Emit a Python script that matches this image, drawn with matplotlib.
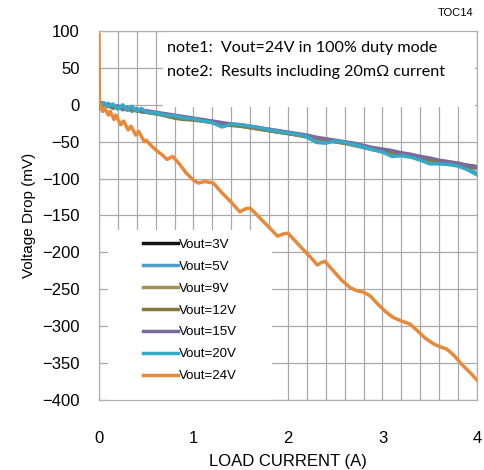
import matplotlib.pyplot as plt
from matplotlib.patches import Rectangle

# load current (A) for the near-linear group
x_grp = [0, 0.05, 0.1, 0.15, 0.2, 0.25, 0.3, 0.35, 0.4, 0.45,
         0.5, 0.6, 0.7, 0.8, 0.9, 1.0, 1.1, 1.2, 1.3, 1.4,
         1.5, 1.6, 1.7, 1.8, 1.9, 2.0, 2.1, 2.2, 2.3, 2.4,
         2.5, 2.6, 2.7, 2.8, 2.9, 3.0, 3.1, 3.2, 3.3, 3.4,
         3.5, 3.6, 3.7, 3.8, 3.9, 4.0]

v3 = [4, 1, -1, -2, -3, -4, -5, -6, -7, -8,
      -9, -11, -13, -15, -17, -19, -21, -23, -25, -27,
      -28, -30, -32, -34, -36, -38, -40, -42, -45, -47,
      -49, -51, -54, -56, -59, -61, -64, -66, -69, -71,
      -74, -76, -78, -80, -82, -84]
v5 = [0, -4, 2, -5, -1, -7, -3, -9, -5, -10,
      -10, -12, -13, -16, -17, -20, -21, -24, -29, -27,
      -28, -30, -32, -35, -37, -38, -41, -44, -50, -49,
      -50, -52, -55, -58, -61, -63, -68, -67, -70, -73,
      -76, -78, -80, -82, -86, -93]
v9 = [2, 0, -2, -3, -4, -5, -6, -7, -8, -9,
      -10, -12, -14, -17, -19, -21, -22, -24, -26, -27,
      -29, -31, -33, -35, -37, -39, -41, -43, -46, -48,
      -50, -52, -55, -57, -60, -62, -65, -67, -70, -72,
      -75, -77, -79, -81, -83, -85]
v12 = [1, -1, -2, -4, -3, -5, -7, -6, -8, -9,
       -10, -12, -15, -18, -20, -20, -22, -24, -26, -28,
       -29, -31, -33, -35, -37, -39, -41, -43, -45, -47,
       -50, -52, -54, -57, -59, -62, -64, -67, -69, -72,
       -74, -77, -79, -81, -84, -86]
v15 = [3, 1, 0, -2, -2, -4, -5, -5, -7, -8,
       -8, -10, -12, -14, -16, -18, -20, -22, -24, -26,
       -27, -29, -31, -33, -35, -37, -39, -41, -44, -46,
       -48, -50, -52, -55, -58, -60, -62, -65, -67, -70,
       -72, -75, -77, -79, -82, -85]
v20 = [-5, 3, -2, 1, -6, 0, -7, -2, -9, -5,
       -10, -11, -14, -15, -18, -19, -22, -24, -30, -26,
       -27, -29, -31, -34, -36, -38, -40, -43, -51, -52,
       -49, -51, -54, -57, -61, -64, -70, -69, -71, -75,
       -80, -80, -81, -83, -88, -95]

# Vout=24V (100% duty mode)
x_24 = [0, 0.005, 0.01, 0.04, 0.06, 0.10, 0.12, 0.16, 0.18, 0.23,
        0.26, 0.31, 0.34, 0.39, 0.42, 0.48, 0.50, 0.55, 0.61, 0.67,
        0.72, 0.75, 0.78, 0.85, 0.92, 1.0, 1.05, 1.12, 1.21, 1.30,
        1.40, 1.49, 1.55, 1.60, 1.70, 1.80, 1.89, 1.95, 2.0, 2.08,
        2.16, 2.25, 2.31, 2.35, 2.39, 2.48, 2.57, 2.66, 2.73, 2.80,
        2.87, 2.95, 3.03, 3.11, 3.20, 3.29, 3.36, 3.45, 3.54, 3.61,
        3.68, 3.76, 3.84, 3.92, 4.0]
v24 = [95, 5, 0, -9, -4, -14, -9, -20, -14, -27,
       -22, -34, -29, -41, -36, -50, -48, -55, -62, -68,
       -74, -72, -70, -80, -92, -102, -106, -104, -106, -119,
       -132, -145, -141, -140, -153, -166, -178, -175, -174, -185,
       -196, -208, -217, -214, -212, -225, -238, -248, -252, -254,
       -259, -270, -280, -288, -293, -297, -305, -316, -324, -328,
       -331, -340, -352, -362, -373]

labels = ['Vout=3V', 'Vout=5V', 'Vout=9V', 'Vout=12V', 'Vout=15V', 'Vout=20V', 'Vout=24V']
colors = ['#111111', '#4f9dc9', '#a0915a', '#857a3c', '#7b6a9b', '#36a9c4', '#e8893a']

plt.rcParams['font.family'] = ['Liberation Sans', 'DejaVu Sans']

fig = plt.figure(figsize=(4.85, 4.70), dpi=100)
ax = fig.add_axes([0.204, 0.149, 0.7795, 0.785])

series = [v3, v5, v9, v12, v15, v20]
for v, lab, c in zip(series, labels[:6], colors[:6]):
    ax.plot(x_grp, v, color=c, lw=2.5, label=lab, zorder=3)
ax.plot(x_24, v24, color=colors[6], lw=2.5, label=labels[6], zorder=4)

ax.set_xlim(0, 4)
ax.set_ylim(-400, 100)
ax.set_xticks([0, 1, 2, 3, 4])
ax.set_xticks([i * 0.2 for i in range(21)], minor=True)
ax.set_yticks(range(-400, 101, 50))
ax.grid(True, which='both', axis='x', color='#a8a8a8', lw=0.9)
ax.grid(True, which='major', axis='y', color='#a8a8a8', lw=0.9)
ax.set_axisbelow(True)
ax.tick_params(which='both', length=0, labelsize=12)
ax.tick_params(axis='x', pad=22)
ax.tick_params(axis='y', pad=14)
for s in ax.spines.values():
    s.set_color('#b0b0b0')
    s.set_linewidth(0.9)

# white panels behind notes and legend
ax.add_patch(Rectangle((0.169, 0.794), 0.826, 0.206, transform=ax.transAxes,
                       facecolor='white', edgecolor='none', zorder=1))
ax.add_patch(Rectangle((0.024, 0.0), 0.434, 0.46, transform=ax.transAxes,
                       facecolor='white', edgecolor='none', zorder=1))

ax.text(0.18, 0.955, 'note1:  Vout=24V in 100% duty mode', transform=ax.transAxes,
        fontsize=11.6, family=['Lato', 'DejaVu Sans'], va='center', zorder=5)
ax.text(0.18, 0.888, 'note2:  Results including 20m\u03a9 current', transform=ax.transAxes,
        fontsize=11.6, family=['Lato', 'DejaVu Sans'], va='center', zorder=5)

ax.legend(loc='upper left', bbox_to_anchor=(0.116, 0.437), frameon=False,
          fontsize=9.5, handlelength=2.7, handletextpad=0.05, labelspacing=0.73,
          borderpad=0, borderaxespad=0)

ax.set_xlabel('LOAD CURRENT (A)', fontsize=12, labelpad=6)
ax.set_ylabel('Voltage Drop (mV)', fontsize=11, labelpad=4)
fig.text(0.903, 0.967, 'TOC14', fontsize=8)

fig.savefig('out.png', dpi=100)
